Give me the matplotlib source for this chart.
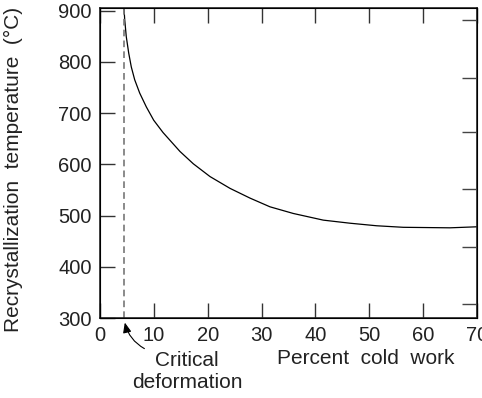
import numpy as np
import matplotlib
matplotlib.use("Agg")
import matplotlib.pyplot as plt

plt.rcParams['font.family'] = ['Liberation Sans', 'DejaVu Sans']

# curve
cold_work = [4.46, 4.59, 4.88, 5.33, 5.81, 6.44, 7.37, 8.60, 9.97, 11.70,
             14.85, 17.32, 20.43, 24.14, 27.85, 31.56, 35.89, 41.46, 46.41,
             51.37, 56.31, 64.98, 70.0]
recryst_temp = [904, 882, 849, 817, 790, 765, 739, 712, 686, 662,
                625, 601, 576, 553, 534, 517, 504, 491, 485,
                480, 477, 476, 478]
critical_deformation = 4.5

x_ticks = [0, 10, 20, 30, 40, 50, 60, 70]
y_ticks = [300, 400, 500, 600, 700, 800, 900]

txt = '#222222'

fig = plt.figure(figsize=(4.82, 3.98), dpi=100)
ax = fig.add_axes([100/482, 1 - 318/398, 377/482, 310/398])

ax.plot(cold_work, recryst_temp, color='black', lw=0.9)
ax.axvline(critical_deformation, color='#777777', lw=1.2, ls=(0, (4, 2.5)))

ax.set_xlim(0, 70)
ax.set_ylim(300, 905)
ax.set_xticks(x_ticks)
ax.set_yticks(y_ticks)
ax.tick_params(direction='in', length=11, width=1, colors='#333333',
               labelsize=14.5, labelcolor=txt, top=True, pad=6)
ax.tick_params(axis='y', right=False)
for s in ax.spines.values():
    s.set_linewidth(1.2)
    s.set_color('#222222')

# right-hand ticks (hand drawn, not aligned with the left ones)
ax2 = ax.twinx()
ax2.set_ylim(ax.get_ylim())
ax2.set_yticks([881, 769, 663, 551, 439, 327])
ax2.tick_params(direction='in', length=11, width=1, colors='#444444', labelright=False)

ax.set_ylabel('Recrystallization  temperature  (°C)', fontsize=15, color=txt)
ax.yaxis.set_label_coords(-0.205, 0.48)

ax.text(49.4, -0.132, 'Percent  cold  work', transform=ax.get_xaxis_transform(),
        ha='center', va='center', fontsize=15, color=txt)
ax.text(16.15, -0.171, 'Critical\ndeformation', transform=ax.get_xaxis_transform(),
        ha='center', va='center', fontsize=15, color=txt, linespacing=1.2)
ax.annotate('', xy=(critical_deformation, -0.006), xycoords=ax.get_xaxis_transform(),
            xytext=(8.7, -0.103), textcoords=ax.get_xaxis_transform(),
            annotation_clip=False,
            arrowprops=dict(arrowstyle='-|>,head_length=0.6,head_width=0.25',
                            color='black', lw=0.8,
                            connectionstyle='arc3,rad=-0.25'))

fig.savefig('out.png', dpi=100)
